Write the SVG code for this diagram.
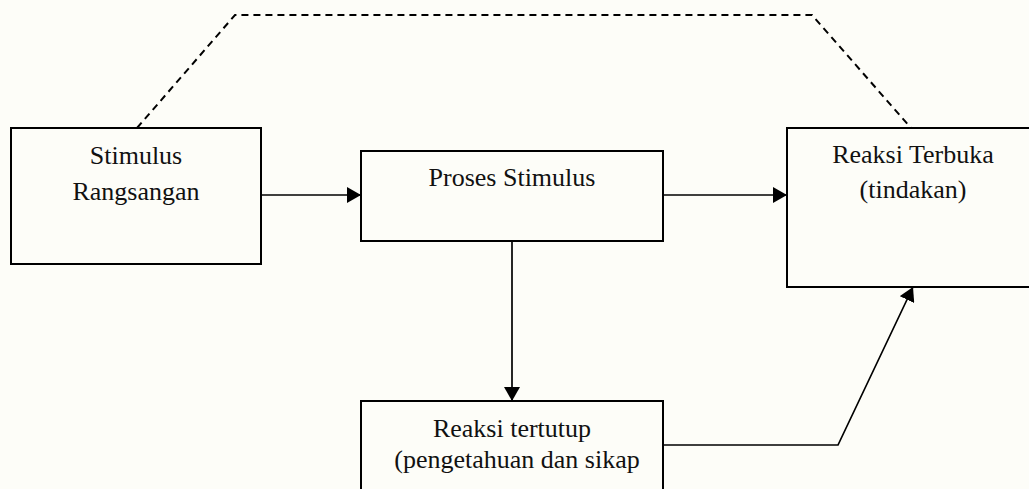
<svg xmlns="http://www.w3.org/2000/svg" width="1029" height="489" viewBox="0 0 1029 489">
<defs>
<style>
.box{fill:none;stroke:#000;stroke-width:2}
.lbl{font-family:"Liberation Serif","Times New Roman",serif;font-size:26px;fill:#111;text-anchor:middle}
.conn{fill:none;stroke:#000;stroke-width:1.7}
.dash{fill:none;stroke:#000;stroke-width:2;stroke-dasharray:7 5}
</style>
<marker id="arr" viewBox="0 0 14 16" refX="14" refY="8" markerWidth="14" markerHeight="16" markerUnits="userSpaceOnUse" orient="auto">
<path d="M0,0 L14,8 L0,16 Z" fill="#000"/>
</marker>
</defs>
<rect x="0" y="0" width="1029" height="489" fill="#fdfdf8"/>
<g id="connectors">
<path class="dash" d="M137,128 L235,15 L812,15 L911,128"/>
<line class="conn" x1="261" y1="195" x2="361" y2="195" marker-end="url(#arr)"/>
<line class="conn" x1="663" y1="195" x2="787" y2="195" marker-end="url(#arr)"/>
<line class="conn" x1="512" y1="241" x2="512" y2="401" marker-end="url(#arr)"/>
<polyline class="conn" points="663,445 838,445 913,287" marker-end="url(#arr)"/>
</g>
<g id="stimulus">
<rect class="box" x="11" y="128" width="250" height="136"/>
<text class="lbl" x="136" y="164">Stimulus</text>
<text class="lbl" x="136" y="200">Rangsangan</text>
</g>
<g id="proses">
<rect class="box" x="361" y="151" width="302" height="90"/>
<text class="lbl" x="512" y="186">Proses Stimulus</text>
</g>
<g id="terbuka">
<rect class="box" x="787" y="128" width="260" height="159"/>
<text class="lbl" x="913" y="163">Reaksi Terbuka</text>
<text class="lbl" x="913" y="198">(tindakan)</text>
</g>
<g id="tertutup">
<rect class="box" x="361" y="401" width="302" height="100"/>
<text class="lbl" x="512" y="437">Reaksi tertutup</text>
<text class="lbl" x="517" y="468">(pengetahuan dan sikap</text>
</g>
</svg>
